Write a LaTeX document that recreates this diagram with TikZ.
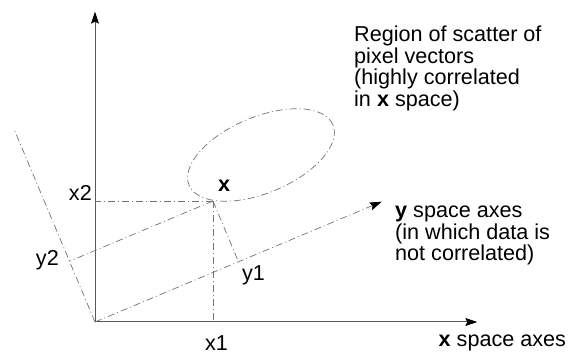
\documentclass[tikz,border=0pt]{standalone}
\usepackage{fontspec}
\setmainfont{Liberation Sans}
\usetikzlibrary{arrows.meta,calc}

\begin{document}
\begin{tikzpicture}[x=1pt,y=1pt,
    >={Stealth[length=12pt,width=8pt,inset=2pt,color=black]},
    axis/.style={black!65,line width=1pt},
    proj/.style={black!55,line width=0.7pt,dash pattern=on 7pt off 3pt on 1pt off 3pt},
    lbl/.style={inner sep=0pt,font=\fontsize{21.6}{21.5}\selectfont}]
  \useasboundingbox (0,0) rectangle (570,358);
  \coordinate (O) at (95,36);
  \coordinate (x1end) at (477.3,36);
  \coordinate (x2end) at (95,346.3);
  \coordinate (y1end) at (381.7,156.3);
  \coordinate (y2end) at (14.5,227.8);
  \coordinate (P) at (213,157);
  \coordinate (X1) at (P |- O);
  \coordinate (X2) at (P -| O);
  \coordinate (Y1) at ($(O)!(P)!(y1end)$);
  \coordinate (Y2) at ($(O)!(P)!(y2end)$);
  % x space axes
  \draw[axis,->] (O) -- (x1end);
  \draw[axis,->] (O) -- (x2end);
  % y space axes
  \draw[proj,->] (O) -- (y1end);
  \draw[proj] (O) -- (y2end);
  % scatter region
  \draw[proj,rotate around={22.76:(261,203)}] (261,203) ellipse (78pt and 38pt);
  \draw[proj] (P) -- (X1);
  \draw[proj] (P) -- (X2);
  \draw[proj] (P) -- (Y1);
  \draw[proj] (P) -- (Y2);
  \node[lbl,anchor=base west] (xlab) at ($(P)+(5,9)$) {\textbf{x}};
  \node[lbl,anchor=base] (x1lab) at ($(X1)+(3.5,-28.7)$) {x1};
  \node[lbl,anchor=base east] (x2lab) at ($(X2)+(-3,0)$) {x2};
  \node[lbl,anchor=base west] (y1lab) at ($(Y1)+(3.5,-19.2)$) {y1};
  \node[lbl,anchor=base east] (y2lab) at ($(Y2)+(-10.5,-3.8)$) {y2};
  \node[lbl,anchor=base west] (xaxlab) at ($(x1end)+(-38.8,-25)$) {\textbf{x} space axes};
  \node[lbl,anchor=base west,align=left] (yaxlab) at ($(y1end)+(13.3,-59.3)$)
    {\textbf{y} space axes\\(in which data is\\not correlated)};
  \node[lbl,anchor=base west,align=left] (region) at (354,251.5)
    {Region of scatter of\\pixel vectors\\(highly correlated\\in \textbf{x} space)};
\end{tikzpicture}
\end{document}
